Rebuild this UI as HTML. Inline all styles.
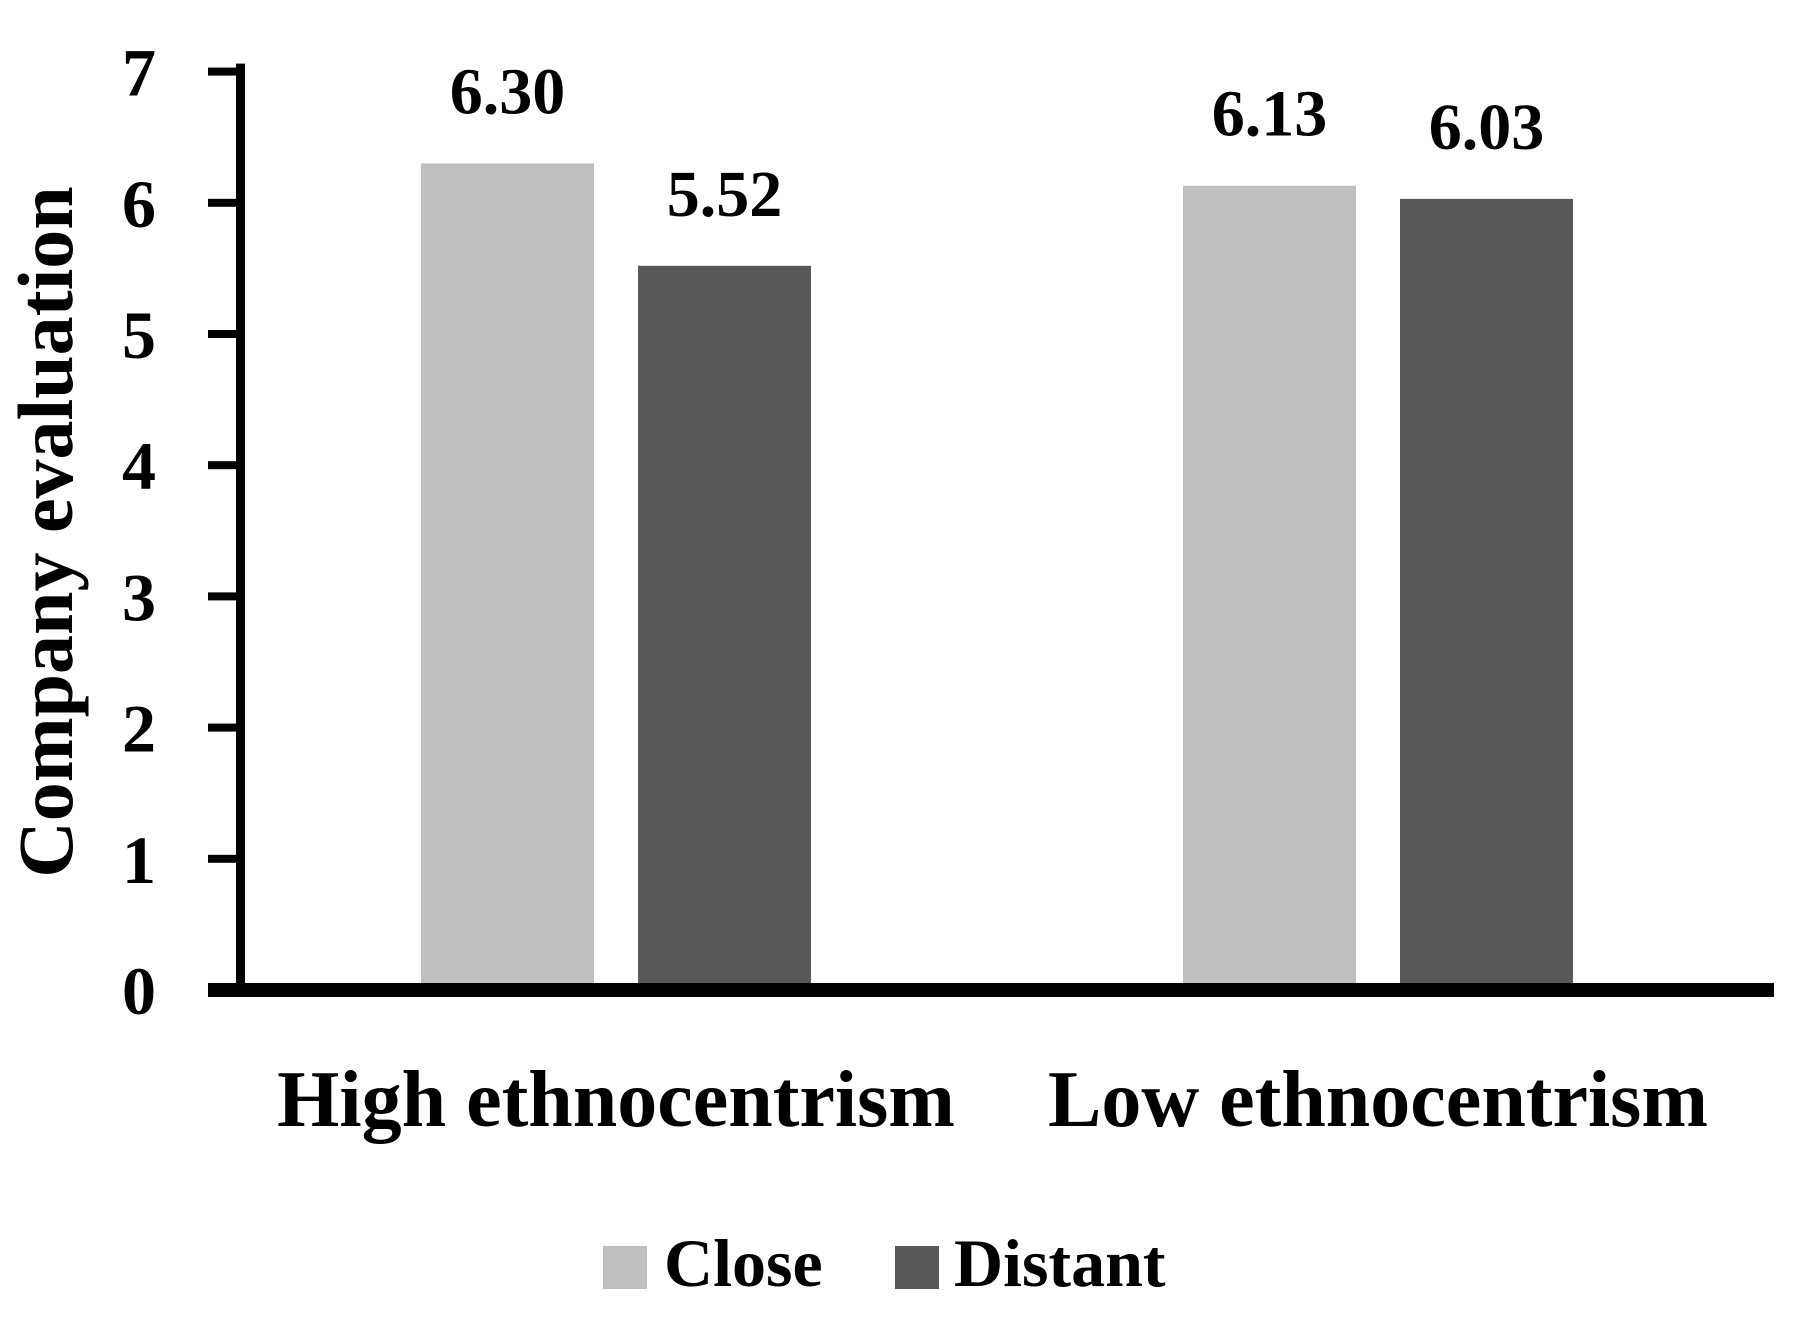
<!DOCTYPE html>
<html><head><meta charset="utf-8"><style>
html,body{margin:0;padding:0;background:#fff;}
svg text{font-family:"Liberation Serif",serif;font-weight:bold;fill:#000;}
</style></head><body>
<svg id="chart" width="1797" height="1313" viewBox="0 0 1797 1313" xmlns="http://www.w3.org/2000/svg">
<g id="bars"></g>
<g id="axes"></g>
<text x="0" y="0" transform="translate(72,532) rotate(-90)" text-anchor="middle" font-size="78">Company evaluation</text>
<rect x="603" y="1246" width="44" height="43" fill="#bfbfbf"/>
<text x="664" y="1286" font-size="68">Close</text>
<rect x="895" y="1246" width="44" height="43" fill="#595959"/>
<text x="954" y="1286" font-size="68">Distant</text>
</svg>
<script>
const categories = ["High ethnocentrism", "Low ethnocentrism"];
const closeValues = [6.30, 6.13];
const distantValues = [5.52, 6.03];
const valueLabels = [["6.30","6.13"],["5.52","6.03"]];
const yTicks = [0,1,2,3,4,5,6,7];

const NS = "http://www.w3.org/2000/svg";
const y0 = 990, unit = 131.2;
function yScale(v){ return y0 - v*unit; }
const groupCenters = [616, 1378];
const barW = 173, gap = 44;
function mk(tag, attrs, parent){ const e=document.createElementNS(NS,tag); for(const k in attrs) e.setAttribute(k,attrs[k]); parent.appendChild(e); return e; }
const bars = document.getElementById('bars');
const axes = document.getElementById('axes');
const series = [closeValues, distantValues];
const colors = ["#bfbfbf","#595959"];
series.forEach((vals, s) => {
  vals.forEach((v, i) => {
    const x = groupCenters[i] + (s === 0 ? -(gap/2 + barW) : gap/2);
    const r = mk('rect', {x:x, y:yScale(v), width:barW, height:y0 - yScale(v), fill:colors[s]}, bars);
    
    
    const t = mk('text', {x:x + barW/2, y:yScale(v) - 50, 'text-anchor':'middle', 'font-size':66}, bars);
    t.textContent = valueLabels[s][i];
    
    
  });
});
categories.forEach((c, i) => {
  const t = mk('text', {x:groupCenters[i], y:1126, 'text-anchor':'middle', 'font-size':80}, axes);
  t.textContent = c;
  
  
});
const ax = mk('rect', {x:236, y:yScale(7)-8, width:9, height:y0 - yScale(7) + 8, fill:'#000'}, axes);


const bx = mk('rect', {x:208, y:y0-7, width:1566, height:14, fill:'#000'}, axes);


yTicks.forEach(v => {
  const tk = mk('rect', {x:208, y:yScale(v)-4, width:34, height:8, fill:'#000'}, axes);
  
  
  const t = mk('text', {x:156, y:yScale(v)+24, 'text-anchor':'end', 'font-size':68}, axes);
  t.textContent = v;
  
  
});
</script>
</body></html>
